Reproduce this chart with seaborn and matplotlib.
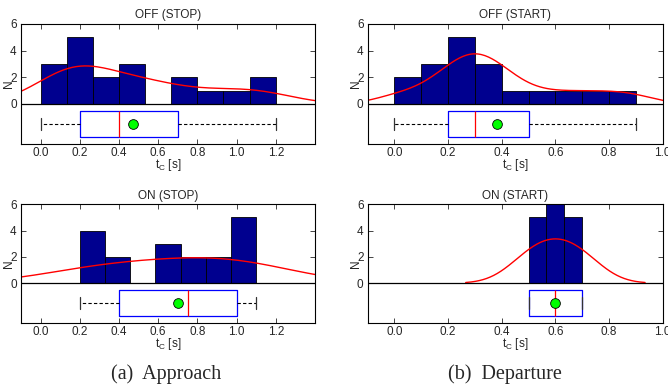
import numpy as np
import matplotlib
matplotlib.use('Agg')
import matplotlib.pyplot as plt
import seaborn as sns

# t_C samples [s] for each condition (read back from the histograms and box plots)
off_stop = [0.0, 0.1, 0.1, 0.2, 0.2, 0.2, 0.2, 0.2, 0.3, 0.4,
            0.5, 0.5, 0.5, 0.7, 0.7, 0.9, 1.0, 1.1, 1.2]
off_start = [0.0, 0.1, 0.2, 0.2, 0.2, 0.3, 0.3, 0.3, 0.3, 0.3,
             0.4, 0.4, 0.4, 0.5, 0.6, 0.7, 0.8, 0.9]
on_stop = [0.2, 0.2, 0.3, 0.3, 0.4, 0.4, 0.6, 0.7, 0.7, 0.8,
           0.8, 0.9, 0.9, 1.0, 1.1, 1.1, 1.1, 1.1]
on_start = [0.5, 0.5, 0.5, 0.5, 0.5, 0.6, 0.6, 0.6, 0.6, 0.6,
            0.6, 0.7, 0.7, 0.7, 0.7, 0.7]

titulos = ['OFF (STOP)', 'OFF (START)', 'ON (STOP)', 'ON (START)']
muestras = [off_stop, off_start, on_stop, on_start]
n_bins = [9, 9, 7, 3]
x_max = [1.4, 1.0, 1.4, 1.0]
ticks_x = [[0.0, 0.2, 0.4, 0.6, 0.8, 1.0, 1.2],
           [0.0, 0.2, 0.4, 0.6, 0.8, 1.0],
           [0.0, 0.2, 0.4, 0.6, 0.8, 1.0, 1.2],
           [0.0, 0.2, 0.4, 0.6, 0.8, 1.0]]
captions = ['(a)  Approach', '(b)  Departure']

# posiciones de los ejes (fracción de figura)
rects = [[0.0314, 0.6279, 0.4401, 0.3101],
         [0.5504, 0.6279, 0.4416, 0.3101],
         [0.0314, 0.1662, 0.4401, 0.3062],
         [0.5504, 0.1662, 0.4416, 0.3062]]


def bordes_matlab(x, n):
    # Matlab hist cuenta en intervalos (a, b]
    x = np.asarray(x)
    e = np.linspace(x.min(), x.max(), n + 1)
    e[1:] += 1e-9
    return e


def ancho_ksdensity(x):
    x = np.asarray(x)
    sig = np.median(np.abs(x - np.median(x))) / 0.6745
    return sig * (4 / (3 * len(x))) ** 0.2


def stats_caja(x):
    x = np.asarray(x)
    q1, med, q3 = np.percentile(x, [25, 50, 75], method='hazen')
    iqr = q3 - q1
    return dict(med=med, q1=q1, q3=q3,
                whislo=x[x >= q1 - 1.5 * iqr].min(),
                whishi=x[x <= q3 + 1.5 * iqr].max(),
                mean=x.mean(), fliers=[])


sns.set_style('ticks')
plt.rcParams['font.family'] = ['Liberation Sans', 'DejaVu Sans']
plt.rcParams['axes.linewidth'] = 0.8

fig = plt.figure(figsize=(6.68, 3.87), dpi=100)

for i in range(4):
    ax = fig.add_axes(rects[i])
    x = np.asarray(muestras[i])
    bw = ancho_ksdensity(x)

    sns.histplot(x=x, bins=bordes_matlab(x, n_bins[i]), kde=True, ax=ax,
                 color='#00008F', edgecolor='black', linewidth=0.6, alpha=1,
                 kde_kws=dict(bw_method=bw / np.std(x, ddof=1), cut=2.6),
                 line_kws=dict(lw=1))
    ax.lines[-1].set_color('red')

    ax.axhline(0, color='black', lw=0.9)

    ax.bxp([stats_caja(x)], positions=[-1.5], widths=2.0,
           orientation='horizontal', showmeans=True, manage_ticks=False,
           capwidths=0.9,
           boxprops=dict(color='blue', lw=0.9),
           medianprops=dict(color='red', lw=0.9),
           whiskerprops=dict(color='black', lw=0.8, ls=(0, (3, 2))),
           capprops=dict(color='#333333', lw=0.9),
           meanprops=dict(marker='o', markersize=7, markerfacecolor='#00FF00',
                          markeredgecolor='black', markeredgewidth=0.6))

    ax.set_xlim(-0.1, x_max[i])
    ax.set_ylim(-3, 6)
    ax.set_xticks(ticks_x[i])
    ax.set_xticklabels([f'{t:.1f}' for t in ticks_x[i]])
    ax.set_yticks([0, 2, 4, 6])
    ax.tick_params(direction='in', top=True, right=True, length=3.5,
                   width=0.6, labelsize=8.5, pad=3)
    ax.tick_params(axis='x', pad=2.5)
    for s in ax.spines.values():
        s.set_color('black')

    ax.set_title(titulos[i], fontsize=8.5, pad=4)
    ax.set_xlabel(r'$\mathregular{t_C}$ [s]', fontsize=8.5)
    ax.xaxis.set_label_coords(0.5, -0.11)
    ax.set_ylabel('N', fontsize=8.5)
    ax.yaxis.set_label_coords(-0.02, 0.5)

fig.text(0.2482, 0.0199, captions[0], ha='center', va='baseline',
         family='Liberation Serif', fontsize=14.5)
fig.text(0.756, 0.0199, captions[1], ha='center', va='baseline',
         family='Liberation Serif', fontsize=14.5)

plt.savefig('out.png', dpi=100)
